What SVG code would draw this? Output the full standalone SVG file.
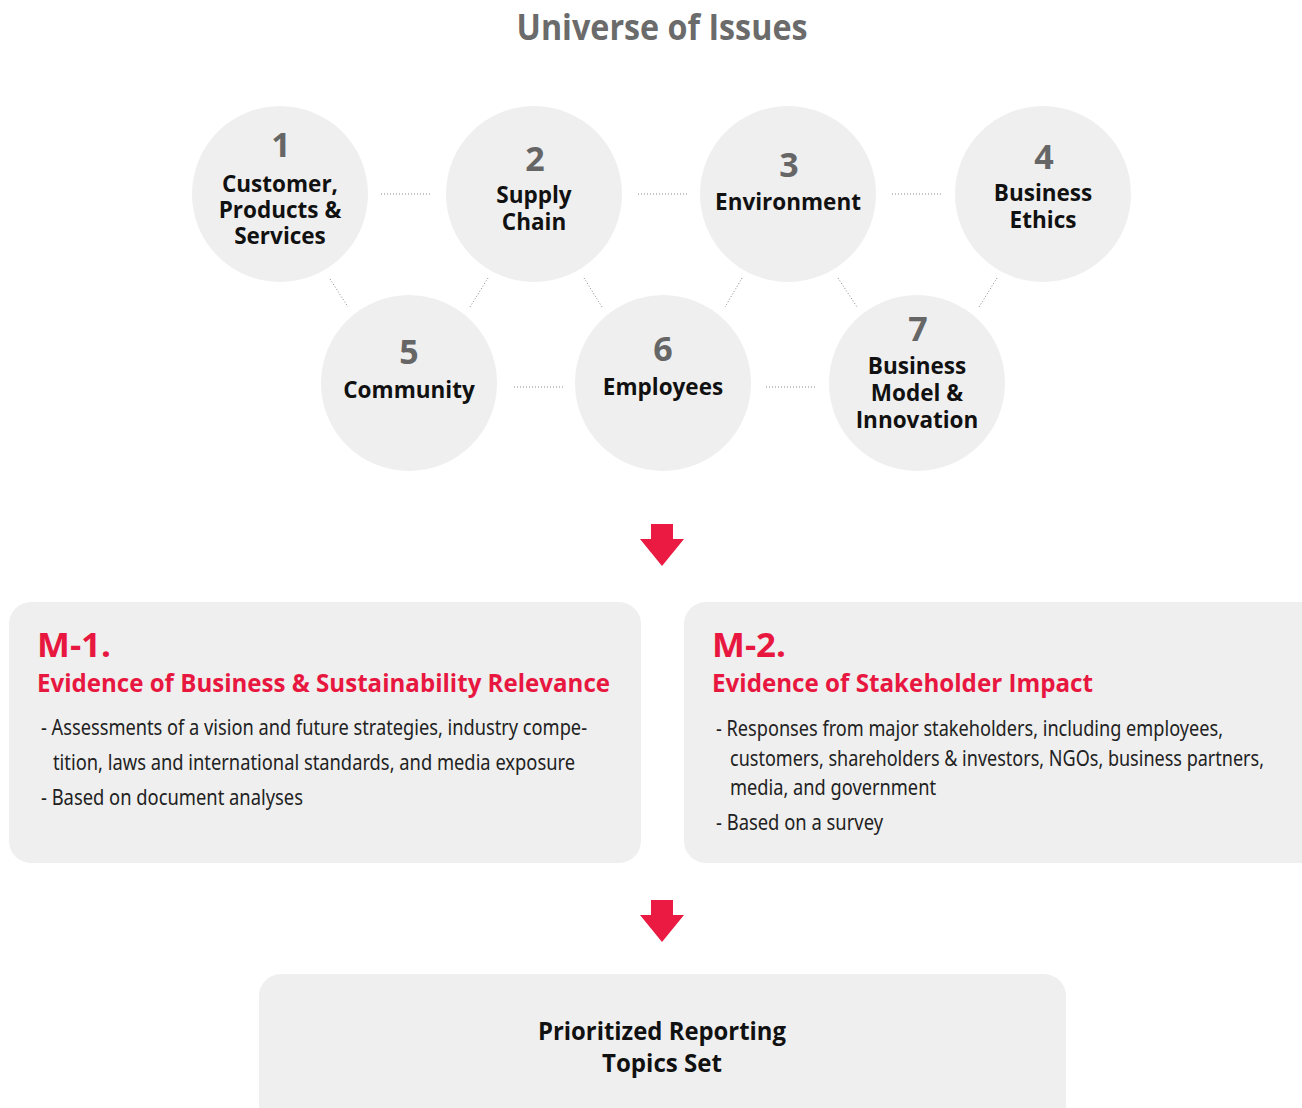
<svg xmlns="http://www.w3.org/2000/svg" width="1302" height="1108" viewBox="0 0 1302 1108">
<style>
.circ{fill:#efefef}
.num{font-family:"Open Sans","Noto Sans",sans-serif;font-weight:700;font-size:34px;fill:#666666;text-anchor:middle}
.lbl{font-family:"Open Sans","Noto Sans",sans-serif;font-weight:700;font-size:22.5px;fill:#111111;text-anchor:middle}
.dot{stroke:#8a8a8a;stroke-width:1;stroke-dasharray:1 2;fill:none}
.box{fill:#efefef}
.mhd{font-family:"Open Sans","Noto Sans",sans-serif;font-weight:700;font-size:34px;fill:#e8173f}
.sub{font-family:"Open Sans","Noto Sans",sans-serif;font-weight:700;font-size:25px;fill:#e8173f}
.body{font-family:"Noto Sans","Open Sans",sans-serif;font-weight:400;font-size:21px;fill:#222222}
.fin{font-family:"Open Sans","Noto Sans",sans-serif;font-weight:700;font-size:25px;fill:#111111;text-anchor:middle}
.arr{fill:#ea1a42}
</style>
<rect width="1302" height="1108" fill="#ffffff"/>
<text x="662" y="40" font-family="Open Sans, Noto Sans, sans-serif" font-weight="700" font-size="35" fill="#6b6b6b" text-anchor="middle" textLength="291" lengthAdjust="spacingAndGlyphs">Universe of Issues</text>

<g id="connectors">
<line class="dot" x1="381" y1="194" x2="430" y2="194"/>
<line class="dot" x1="638" y1="194" x2="687" y2="194"/>
<line class="dot" x1="892" y1="194" x2="941" y2="194"/>
<line class="dot" x1="514" y1="387" x2="563" y2="387"/>
<line class="dot" x1="766" y1="387" x2="815" y2="387"/>
<line class="dot" x1="330" y1="279" x2="348" y2="307"/>
<line class="dot" x1="488" y1="278" x2="470" y2="307"/>
<line class="dot" x1="584" y1="278" x2="602" y2="307"/>
<line class="dot" x1="742" y1="278" x2="725" y2="307"/>
<line class="dot" x1="838" y1="278" x2="857" y2="307"/>
<line class="dot" x1="997" y1="278" x2="979" y2="307"/>
</g>

<g id="node1">
<circle class="circ" cx="280" cy="194" r="88"/>
<text class="num" x="281" y="157">1</text>
<text class="lbl" x="280" y="192">Customer,</text>
<text class="lbl" x="280" y="218">Products &amp;</text>
<text class="lbl" x="280" y="244">Services</text>
</g>
<g id="node2">
<circle class="circ" cx="534" cy="194" r="88"/>
<text class="num" x="535" y="171">2</text>
<text class="lbl" x="534" y="203">Supply</text>
<text class="lbl" x="534" y="230">Chain</text>
</g>
<g id="node3">
<circle class="circ" cx="788" cy="194" r="88"/>
<text class="num" x="789" y="177">3</text>
<text class="lbl" x="788" y="210">Environment</text>
</g>
<g id="node4">
<circle class="circ" cx="1043" cy="194" r="88"/>
<text class="num" x="1044" y="169">4</text>
<text class="lbl" x="1043" y="201">Business</text>
<text class="lbl" x="1043" y="228">Ethics</text>
</g>
<g id="node5">
<circle class="circ" cx="409" cy="383" r="88"/>
<text class="num" x="409" y="364">5</text>
<text class="lbl" x="409" y="398">Community</text>
</g>
<g id="node6">
<circle class="circ" cx="663" cy="383" r="88"/>
<text class="num" x="663" y="361">6</text>
<text class="lbl" x="663" y="395">Employees</text>
</g>
<g id="node7">
<circle class="circ" cx="917" cy="383" r="88"/>
<text class="num" x="918" y="341">7</text>
<text class="lbl" x="917" y="374">Business</text>
<text class="lbl" x="917" y="401">Model &amp;</text>
<text class="lbl" x="917" y="428">Innovation</text>
</g>

<g id="arrow1">
<path class="arr" d="M651,524 H673 V539 H684 L662,566 L640,539 H651 Z"/>
</g>

<g id="boxM1">
<rect class="box" x="9" y="602" width="632" height="261" rx="22"/>
<text class="mhd" x="37" y="657" textLength="74" lengthAdjust="spacingAndGlyphs">M-1.</text>
<text class="sub" x="37" y="692" textLength="573" lengthAdjust="spacingAndGlyphs">Evidence of Business &amp; Sustainability Relevance</text>
<text class="body" x="41" y="735" textLength="546" lengthAdjust="spacingAndGlyphs">- Assessments of a vision and future strategies, industry compe-</text>
<text class="body" x="53" y="770" textLength="522" lengthAdjust="spacingAndGlyphs">tition, laws and international standards, and media exposure</text>
<text class="body" x="41" y="805" textLength="262" lengthAdjust="spacingAndGlyphs">- Based on document analyses</text>
</g>

<g id="boxM2">
<rect class="box" x="684" y="602" width="660" height="261" rx="22"/>
<text class="mhd" x="712" y="657" textLength="74" lengthAdjust="spacingAndGlyphs">M-2.</text>
<text class="sub" x="712" y="692" textLength="381" lengthAdjust="spacingAndGlyphs">Evidence of Stakeholder Impact</text>
<text class="body" x="716" y="736" textLength="507" lengthAdjust="spacingAndGlyphs">- Responses from major stakeholders, including employees,</text>
<text class="body" x="730" y="766" textLength="534" lengthAdjust="spacingAndGlyphs">customers, shareholders &amp; investors, NGOs, business partners,</text>
<text class="body" x="730" y="795" textLength="206" lengthAdjust="spacingAndGlyphs">media, and government</text>
<text class="body" x="716" y="830" textLength="167" lengthAdjust="spacingAndGlyphs">- Based on a survey</text>
</g>

<g id="arrow2">
<path class="arr" d="M651,900 H673 V915 H684 L662,942 L640,915 H651 Z"/>
</g>

<g id="boxFinal">
<rect class="box" x="259" y="974" width="807" height="160" rx="22"/>
<text class="fin" x="662" y="1040" textLength="248" lengthAdjust="spacingAndGlyphs">Prioritized Reporting</text>
<text class="fin" x="662" y="1072" textLength="120" lengthAdjust="spacingAndGlyphs">Topics Set</text>
</g>
</svg>
